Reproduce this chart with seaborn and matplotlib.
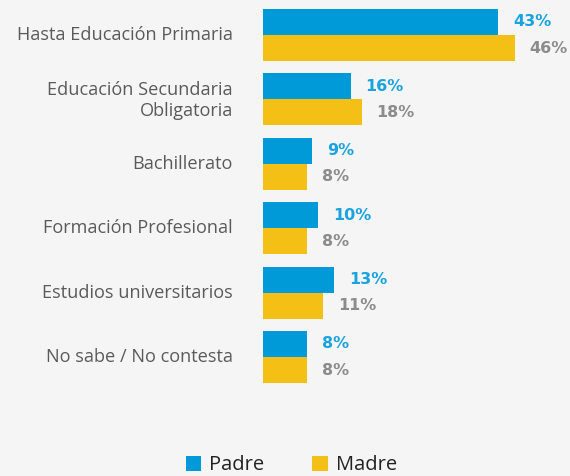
import matplotlib
matplotlib.use("Agg")
import matplotlib.pyplot as plt
import matplotlib.transforms as mtransforms
from matplotlib.patches import Patch
import seaborn as sns
import pandas as pd

categories = [
    "Hasta Educación Primaria",
    "Educación Secundaria\nObligatoria",
    "Bachillerato",
    "Formación Profesional",
    "Estudios universitarios",
    "No sabe / No contesta",
]
padre = [43, 16, 9, 10, 13, 8]
madre = [46, 18, 8, 8, 11, 8]
series = ["Padre", "Madre"]

colors = {"Padre": "#009ad8", "Madre": "#f5c016"}
label_colors = {"Padre": "#1ba3e0", "Madre": "#8c8c8c"}
bg = "#f5f5f5"

df = pd.DataFrame({
    "categoria": categories * 2,
    "valor": padre + madre,
    "serie": ["Padre"] * len(categories) + ["Madre"] * len(categories),
})

sns.set_theme(style="white")
plt.rcParams["font.family"] = ["Open Sans", "DejaVu Sans"]

fig = plt.figure(figsize=(5.70, 4.76), dpi=100, facecolor=bg)
ax = fig.add_axes([263 / 570, 1 - 389.2 / 476, (570 - 263) / 570, (389.2 - 2.8) / 476])
ax.set_facecolor(bg)

sns.barplot(
    data=df, y="categoria", x="valor", hue="serie", hue_order=series,
    order=categories, palette=colors, orient="h", width=0.81,
    saturation=1, ax=ax, legend=False, linewidth=0,
)

for container, name in zip(ax.containers, series):
    ax.bar_label(
        container, labels=[f"{v:g}%" for v in container.datavalues],
        padding=10.8, color=label_colors[name], fontsize=11.5,
        fontweight="bold", family="DejaVu Sans",
    )

ax.set_xlim(0, 56.1)
ax.set_ylim(len(categories) - 0.5, -0.5)
ax.set_xlabel("")
ax.set_ylabel("")
ax.set_xticks([])
ax.tick_params(axis="y", length=0, pad=21.6, labelsize=13.1, labelcolor="#5a5a5a")
# nudge category labels up a little so their caps sit on the bar seam
nudge = mtransforms.ScaledTranslation(0, 2 / 100, fig.dpi_scale_trans)
for lbl in ax.get_yticklabels():
    lbl.set_horizontalalignment("right")
    lbl.set_linespacing(1.15)
    lbl.set_transform(lbl.get_transform() + nudge)
for s in ax.spines.values():
    s.set_visible(False)

handles = [Patch(facecolor=colors[s], edgecolor="none") for s in series]
fig.legend(
    handles, series, loc="center", bbox_to_anchor=(0.511, 1 - 465.5 / 476),
    ncol=2, frameon=False, fontsize=14.5, handlelength=0.75, handleheight=0.72,
    handletextpad=0.4, columnspacing=2.4, labelcolor="#222222",
    borderpad=0, borderaxespad=0,
)

fig.savefig("out.png", dpi=100, facecolor=bg)
